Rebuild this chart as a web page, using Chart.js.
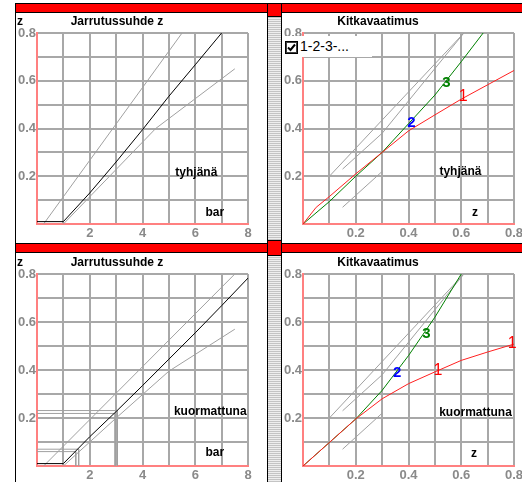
<!DOCTYPE html>
<html><head><meta charset="utf-8">
<script src="https://cdn.jsdelivr.net/npm/chart.js@4"></script>
<style>
html,body{margin:0;padding:0;width:522px;height:482px;overflow:hidden;background:#fff;font-family:"Liberation Sans",Arial,sans-serif;}
.abs{position:absolute;box-sizing:content-box;}
canvas{position:absolute;}
</style></head><body>
<!-- frame -->
<div class="abs" style="left:15px;top:3px;width:520px;height:8px;background:#ff0000;border-top:1px solid #000;border-bottom:1px solid #000;"></div>
<div class="abs" style="left:15px;top:243px;width:520px;height:8px;background:#ff0000;border-top:1px solid #000;border-bottom:1px solid #000;"></div>
<div class="abs" style="left:15px;top:3px;width:1px;height:479px;background:#000;"></div>
<div class="abs" style="left:267px;top:12px;width:13px;height:470px;border-left:1px solid #000;border-right:1px solid #000;background:repeating-linear-gradient(0deg,#c4c4c4 0 1px,#eeeeee 1px 2px);"></div>
<div class="abs" style="left:267px;top:4px;width:13px;height:12px;background:#ff0000;border-left:1px solid #000;border-right:1px solid #000;border-bottom:1px solid #000;"></div>
<div class="abs" style="left:267px;top:240px;width:13px;height:14px;background:#ff0000;border:1px solid #000;"></div>

<canvas id="tl" width="251" height="230" style="left:16px;top:13px;"></canvas>
<canvas id="tr" width="251" height="230" style="left:282px;top:13px;"></canvas>
<canvas id="bl" width="251" height="229" style="left:16px;top:253px;"></canvas>
<canvas id="br" width="251" height="229" style="left:282px;top:253px;"></canvas>

<div class="abs" style="left:282px;top:36px;width:90px;height:21px;background:#fff;">
  <svg class="abs" style="left:3px;top:5px;" width="13" height="13" viewBox="0 0 13 13">
    <rect x="0.5" y="0.5" width="12" height="12" fill="#fff" stroke="#000" stroke-width="1"/>
    <rect x="1.5" y="1.5" width="10" height="10" fill="none" stroke="#404040" stroke-width="1"/>
    <path d="M3 6.5 L5.5 9 L10 3.5" fill="none" stroke="#000" stroke-width="2"/>
  </svg>
  <div class="abs" style="left:18px;top:2px;font-size:14px;line-height:16px;color:#000;">1-2-3-...</div>
</div>

<script>
// ---------- tick labels ----------
const barTickLabels = ['2', '4', '6', '8'];
const zTickLabels = ['0.2', '0.4', '0.6', '0.8'];

// ---------- Jarrutussuhde z, tyhjänä (x: bar, y: z) ----------
const tlBlackBar = [0, 1, 2, 3, 4, 5, 6, 7];
const tlBlackZ   = [0.01, 0.01, 0.13, 0.26, 0.395, 0.535, 0.667, 0.8];
const tlUpperBar = [0.25, 5.5];
const tlUpperZ   = [0, 0.8];
const tlLowerBar = [1, 4.5, 7.5];
const tlLowerZ   = [0, 0.4, 0.65];

// ---------- Jarrutussuhde z, kuormattuna ----------
const blBlackBar = [0, 1, 2, 3, 4, 5, 6, 7, 8];
const blBlackZ   = [0.01, 0.01, 0.122, 0.227, 0.335, 0.445, 0.555, 0.668, 0.783];
const blUpperBar = [0.25, 7.5];
const blUpperZ   = [0, 0.8];
const blLowerBar = [1, 3, 5, 7.5];
const blLowerZ   = [0, 0.2, 0.395, 0.57];
const blLookAOuterBar = [0, 3.05, 3.05];
const blLookAOuterZ   = [0.231, 0.231, 0];
const blLookAInnerBar = [0, 2.96, 2.96];
const blLookAInnerZ   = [0.219, 0.219, 0];
const blLookBOuterBar = [0, 1.58, 1.58];
const blLookBOuterZ   = [0.07, 0.07, 0];
const blLookBInnerBar = [0, 1.47, 1.47];
const blLookBInnerZ   = [0.06, 0.06, 0];

// ---------- Kitkavaatimus limits (x: z, y: k) ----------
const limUpperZ  = [0.1, 0.61];
const limUpperK  = [0.2, 0.8];
const limBandHiZ = [0.15, 0.3, 0.61];
const limBandHiK = [0.23, 0.38, 0.8];
const limBandLoZ = [0.15, 0.3];
const limBandLoK = [0.07, 0.22];

// ---------- Kitkavaatimus, tyhjänä ----------
const trAxle1Z = [0, 0.05, 0.1, 0.2, 0.3, 0.4, 0.5, 0.6, 0.7, 0.8];
const trAxle1K = [0, 0.07, 0.115, 0.21, 0.3, 0.39, 0.457, 0.523, 0.583, 0.643];
const trAxle3Z = [0, 0.1, 0.2, 0.3, 0.4, 0.5, 0.6, 0.683];
const trAxle3K = [0, 0.094, 0.2, 0.3, 0.42, 0.54, 0.68, 0.8];

// ---------- Kitkavaatimus, kuormattuna ----------
const brAxle1Z = [0, 0.1, 0.2, 0.3, 0.4, 0.5, 0.6, 0.7, 0.8];
const brAxle1K = [0, 0.098, 0.196, 0.28, 0.343, 0.392, 0.44, 0.475, 0.508];
const brAxle3Z = [0, 0.1, 0.2, 0.3, 0.4, 0.5, 0.6];
const brAxle3K = [0, 0.098, 0.196, 0.315, 0.46, 0.62, 0.8];

// ---------- helpers ----------
Chart.defaults.font.family = '"Liberation Sans", Arial, sans-serif';
const GRAY = '#a0a0a0';
function pts(xs, ys) { return xs.map((x, i) => ({ x: x, y: ys[i] })); }
function line(xs, ys, color) {
  return { data: pts(xs, ys), borderColor: color, borderWidth: 1, pointRadius: 0, showLine: true, fill: false, tension: 0 };
}
function barLabel(v) {
  const r = Math.round(v);
  const s = String(r);
  return (Math.abs(v - r) < 1e-6 && barTickLabels.includes(s)) ? s : '';
}
function zLabel(v) {
  const s = (Math.round(v * 10) / 10).toFixed(1);
  return zTickLabels.includes(s) ? s : '';
}
function annot(items, titleX, titleY, title, showZ) {
  return {
    id: 'annot',
    afterDatasetsDraw(chart) {
      const ctx = chart.ctx, xs = chart.scales.x, ys = chart.scales.y;
      ctx.save();
      ctx.textBaseline = 'middle';
      ctx.fillStyle = '#000';
      ctx.font = 'bold 12px "Liberation Sans", Arial, sans-serif';
      ctx.textAlign = 'center';
      ctx.fillText(title, titleX, titleY);
      if (showZ) { ctx.textAlign = 'left'; ctx.fillText('z', 1, titleY); }
      items.forEach(it => {
        ctx.font = it.font;
        ctx.fillStyle = it.color;
        ctx.textAlign = 'center';
        ctx.fillText(it.text, xs.getPixelForValue(it.x), ys.getPixelForValue(it.y));
      });
      ctx.restore();
    }
  };
}
function makeChart(id, datasets, xmax, xstep, xcb, padTop, xH, items, title, titleX, titleY, showZ) {
  const tickFont = { size: 13, weight: 'bold' };
  new Chart(document.getElementById(id), {
    type: 'scatter',
    data: { datasets: datasets },
    options: {
      responsive: false, animation: false, devicePixelRatio: 1,
      layout: { padding: { left: 0, top: padTop, right: 19, bottom: 0 } },
      plugins: { legend: { display: false }, tooltip: { enabled: false }, title: { display: false } },
      scales: {
        x: {
          type: 'linear', min: 0, max: xmax,
          ticks: { stepSize: xstep, autoSkip: false, maxRotation: 0, padding: 2, color: '#8a8a8a', font: tickFont, callback: xcb },
          grid: { color: '#a8a8a8', lineWidth: 2, drawTicks: false },
          border: { color: '#ff8080', width: 2 },
          afterFit: s => { s.height = xH; }
        },
        y: {
          type: 'linear', min: 0, max: 0.8,
          ticks: { stepSize: 0.1, autoSkip: false, padding: 1, color: '#8a8a8a', font: tickFont, callback: zLabel },
          grid: { color: '#a8a8a8', lineWidth: 2, drawTicks: false },
          border: { color: '#ff8080', width: 2 },
          afterFit: s => { s.width = 21; }
        }
      }
    },
    plugins: [annot(items, titleX, titleY, title, showZ)]
  });
}

const lblFont = 'bold 12px "Liberation Sans", Arial, sans-serif';
const oneFont = '16px "Liberation Sans", Arial, sans-serif';
const numFont = 'bold 15px "Liberation Sans", Arial, sans-serif';

makeChart('tl', [
  line(tlBlackBar, tlBlackZ, '#000000'),
  line(tlUpperBar, tlUpperZ, GRAY),
  line(tlLowerBar, tlLowerZ, GRAY)
], 8, 1, barLabel, 20, 19, [
  { text: 'tyhjänä', x: 6.04, y: 0.214, font: lblFont, color: '#000' },
  { text: 'bar', x: 6.74, y: 0.046, font: lblFont, color: '#000' }
], 'Jarrutussuhde z', 101, 9, true);

makeChart('bl', [
  line(blBlackBar, blBlackZ, '#000000'),
  line(blUpperBar, blUpperZ, GRAY),
  line(blLowerBar, blLowerZ, GRAY),
  line(blLookAOuterBar, blLookAOuterZ, GRAY),
  line(blLookAInnerBar, blLookAInnerZ, GRAY),
  line(blLookBOuterBar, blLookBOuterZ, GRAY),
  line(blLookBInnerBar, blLookBInnerZ, GRAY)
], 8, 1, barLabel, 21, 16, [
  { text: 'kuormattuna', x: 6.57, y: 0.225, font: lblFont, color: '#000' },
  { text: 'bar', x: 6.74, y: 0.054, font: lblFont, color: '#000' }
], 'Jarrutussuhde z', 101, 10, true);

makeChart('tr', [
  line(trAxle1Z, trAxle1K, '#ff2020'),
  line(trAxle3Z, trAxle3K, '#008000'),
  line(limUpperZ, limUpperK, GRAY),
  line(limBandHiZ, limBandHiK, GRAY),
  line(limBandLoZ, limBandLoK, GRAY)
], 0.8, 0.1, zLabel, 20, 19, [
  { text: 'tyhjänä', x: 0.597, y: 0.219, font: lblFont, color: '#000' },
  { text: 'z', x: 0.652, y: 0.046, font: lblFont, color: '#000' },
  { text: '1', x: 0.607, y: 0.534, font: oneFont, color: '#ff0000' },
  { text: '2', x: 0.411, y: 0.425, font: numFont, color: '#0000ff' },
  { text: '3', x: 0.544, y: 0.593, font: numFont, color: '#008000' }
], 'Kitkavaatimus', 96, 9, false);

makeChart('br', [
  line(brAxle1Z, brAxle1K, '#ff2020'),
  line(brAxle3Z, brAxle3K, '#008000'),
  line(limUpperZ, limUpperK, GRAY),
  line(limBandHiZ, limBandHiK, GRAY),
  line(limBandLoZ, limBandLoK, GRAY)
], 0.8, 0.1, zLabel, 21, 16, [
  { text: 'kuormattuna', x: 0.654, y: 0.223, font: lblFont, color: '#000' },
  { text: 'z', x: 0.648, y: 0.05, font: lblFont, color: '#000' },
  { text: '1', x: 0.512, y: 0.399, font: oneFont, color: '#ff0000' },
  { text: '1', x: 0.793, y: 0.51, font: oneFont, color: '#ff0000' },
  { text: '2', x: 0.357, y: 0.389, font: numFont, color: '#0000ff' },
  { text: '3', x: 0.468, y: 0.55, font: numFont, color: '#008000' }
], 'Kitkavaatimus', 96, 10, false);
</script>
</body></html>
